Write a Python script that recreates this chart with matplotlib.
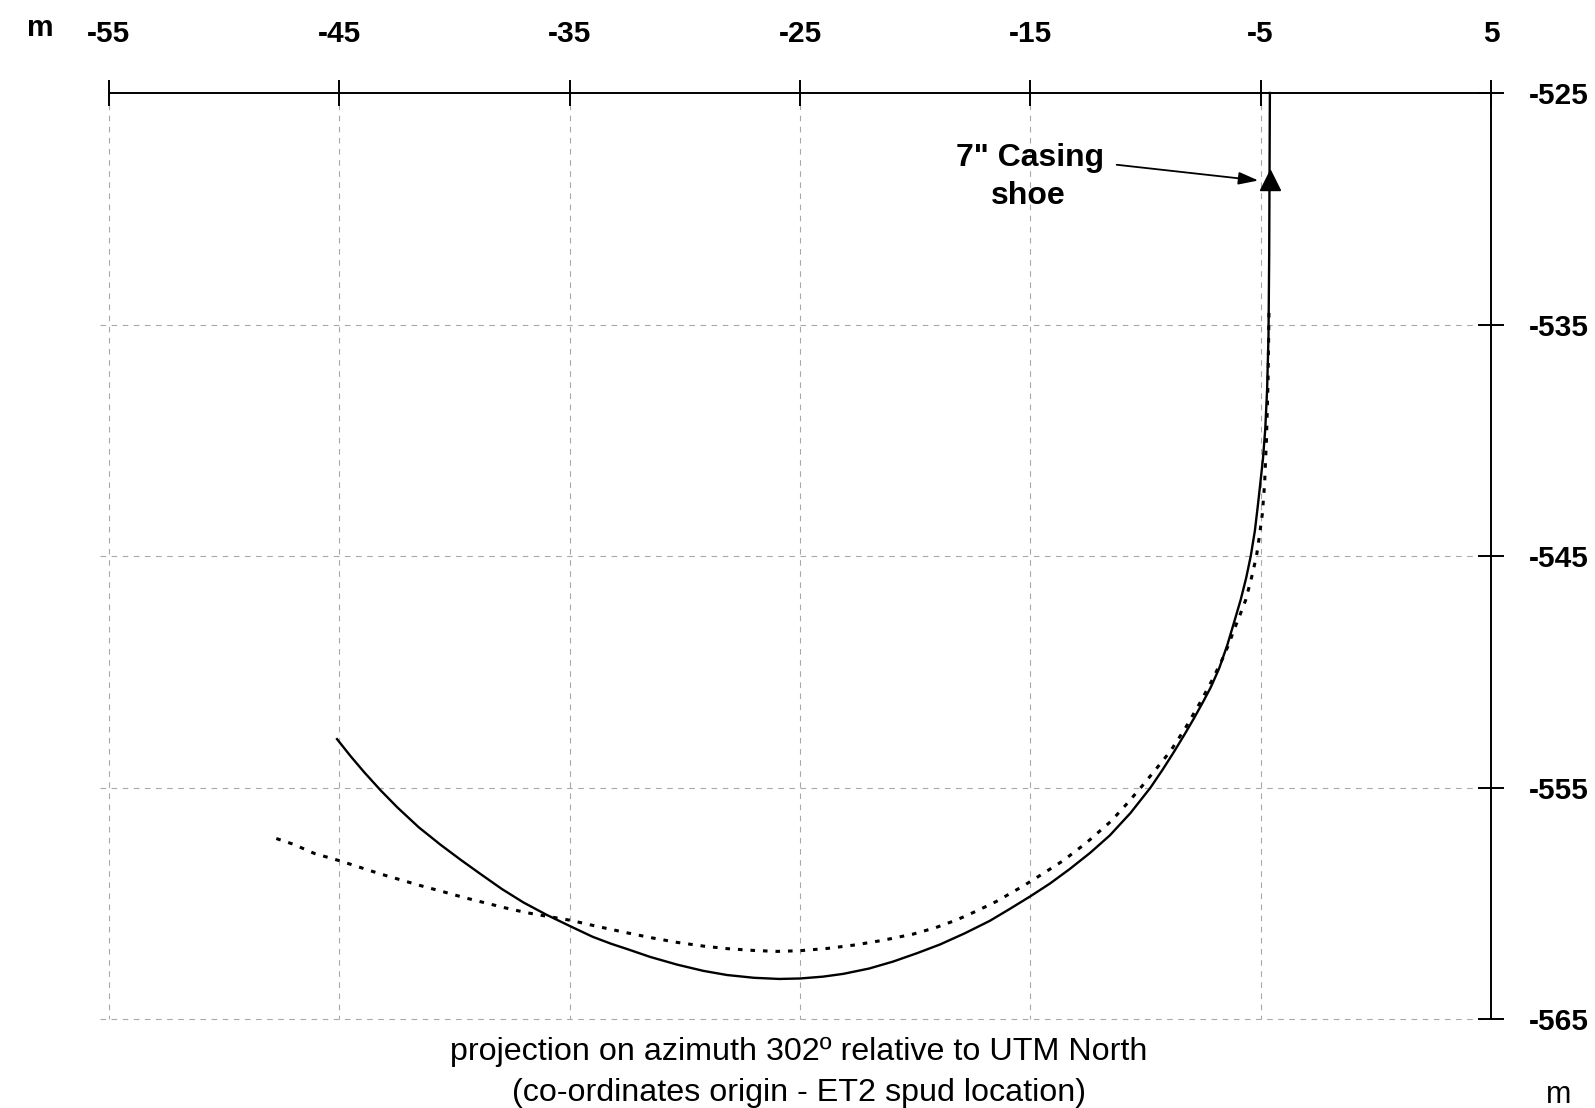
import matplotlib
matplotlib.use("Agg")
import matplotlib.pyplot as plt
from matplotlib import font_manager as fm

# ---------------- data ----------------
x_ticks = [-55, -45, -35, -25, -15, -5, 5]
y_ticks = [-525, -535, -545, -555, -565]
grid_x = [-55, -45, -35, -25, -15, -5]
grid_y = [-535, -545, -555, -565]

# actual well path (solid), read from top to end
solid_x = [-4.60, -4.63, -4.66, -4.72, -4.80, -4.90, -5.02, -5.12, -5.25, -5.43,
           -5.63, -5.87, -6.15, -6.45, -6.80, -7.17, -7.50, -7.90, -8.30, -8.77,
           -9.25, -9.78, -10.65, -11.55, -12.40, -13.30, -14.15, -15.00, -15.90, -16.76,
           -17.85, -18.92, -19.90, -20.96, -22.00, -23.12, -24.00, -25.00, -25.90, -27.00,
           -28.17, -29.20, -30.34, -31.50, -32.50, -33.20, -34.00, -35.00, -36.00, -37.00,
           -37.95, -38.88, -39.75, -40.61, -41.55, -42.48, -43.20, -43.92, -44.50, -45.10]
solid_y = [-525.0, -532.0, -535.5, -537.8, -539.5, -540.8, -541.9, -542.8, -543.9, -545.0,
           -545.95, -546.9, -547.85, -548.85, -549.85, -550.68, -551.3, -552.02, -552.7, -553.47,
           -554.22, -555.0, -556.1, -557.07, -557.82, -558.53, -559.15, -559.70, -560.25, -560.76,
           -561.30, -561.78, -562.15, -562.52, -562.82, -563.05, -563.17, -563.25, -563.27, -563.22,
           -563.10, -562.92, -562.65, -562.32, -561.98, -561.75, -561.45, -560.98, -560.50, -559.97,
           -559.38, -558.73, -558.11, -557.47, -556.72, -555.86, -555.13, -554.34, -553.66, -552.91]

# planned well path (dotted), read from top to end
dotted_x = [-4.64, -4.68, -4.75, -4.83, -4.93, -5.05, -5.18, -5.40, -5.65, -5.90,
            -6.16, -6.40, -6.67, -7.10, -7.61, -8.25, -8.91, -9.50, -10.20, -10.85,
            -11.49, -12.58, -13.59, -14.50, -15.32, -16.47, -17.30, -18.20, -19.10, -20.08,
            -21.40, -22.60, -23.80, -25.00, -26.00, -27.00, -28.17, -29.20, -30.34, -31.40,
            -32.50, -33.80, -35.00, -36.00, -36.80, -37.59, -38.60, -39.60, -40.50, -41.47,
            -42.30, -43.20, -44.10, -45.00, -46.08, -47.00, -47.90]
dotted_y = [-534.5, -537.5, -540.0, -541.9, -543.2, -544.1, -545.0, -545.95, -546.9, -547.55,
            -548.2, -548.85, -549.47, -550.35, -551.3, -552.4, -553.42, -554.15, -555.0, -555.75,
            -556.45, -557.4, -558.17, -558.75, -559.26, -559.92, -560.32, -560.72, -561.05, -561.33,
            -561.6, -561.8, -561.95, -562.05, -562.08, -562.04, -561.96, -561.85, -561.69, -561.5,
            -561.28, -561.0, -560.73, -560.56, -560.42, -560.25, -560.0, -559.75, -559.5, -559.24,
            -559.0, -558.74, -558.45, -558.16, -557.85, -557.45, -557.15]

shoe_x = [-4.6]
shoe_y = [-528.75]
shoe_label_lines = ['7" Casing', 'shoe']
caption_lines = ['projection on azimuth 302º relative to UTM North',
                 '(co-ordinates origin - ET2 spud location)']
unit_label = 'm'

# ---------------- fonts ----------------
def has_font(name):
    try:
        fm.findfont(fm.FontProperties(family=name), fallback_to_default=False)
        return True
    except Exception:
        return False

FAM = 'Liberation Sans' if has_font('Liberation Sans') else 'DejaVu Sans'
plt.rcParams['font.family'] = [FAM, 'DejaVu Sans']
tick_fs, cap_fs, m_fs = 21.5, 23.2, 22

# ---------------- figure ----------------
fig = plt.figure(figsize=(15.95, 11.08), dpi=100)
ax = fig.add_axes([109 / 1595, 1 - 1019 / 1108, 1382 / 1595, 926 / 1108])
ax.set_xlim(-55, 5)
ax.set_ylim(-565, -525)

for s in ['left', 'bottom']:
    ax.spines[s].set_visible(False)
for s in ['top', 'right']:
    ax.spines[s].set_linewidth(1.4)
    ax.spines[s].set_color('black')

ax.xaxis.tick_top()
ax.yaxis.tick_right()
ax.set_xticks(x_ticks)
ax.set_yticks(y_ticks)
ax.set_xticklabels([str(v) for v in x_ticks])
ax.set_yticklabels([str(v) for v in y_ticks])
ax.tick_params(axis='both', direction='inout', length=19, width=1.4, color='black')
ax.tick_params(axis='x', pad=23, labelsize=tick_fs)
ax.tick_params(axis='y', pad=18, labelsize=tick_fs)
for lab in ax.get_xticklabels() + ax.get_yticklabels():
    lab.set_fontweight('bold')

# grid
gcol = '#a8a8a8'
for gx in grid_x:
    ax.plot([gx, gx], [-525, -565], color=gcol, lw=0.8, ls=(0, (5, 5)), zorder=1, clip_on=False)
for gy in grid_y:
    ax.plot([-55.4, 5], [gy, gy], color=gcol, lw=0.8, ls=(0, (5, 5)), zorder=1, clip_on=False)

# curves
ax.plot(solid_x, solid_y, color='black', lw=1.7, zorder=3, clip_on=False,
        solid_joinstyle='round')
ax.plot(dotted_x, dotted_y, color='black', lw=2.2, ls=(0, (1.5, 2.6)), zorder=3, clip_on=False)

# casing shoe
ax.plot(shoe_x, shoe_y, marker='^', ms=14, color='black', ls='none', zorder=4)
ax.text(-15.0, -527.82, shoe_label_lines[0], ha='center', va='center',
        fontsize=23, fontweight='bold')
ax.text(-15.1, -529.46, shoe_label_lines[1], ha='center', va='center',
        fontsize=23, fontweight='bold')
ax.annotate('', xy=(-5.1, -528.78), xytext=(-11.25, -528.1),
            arrowprops=dict(arrowstyle='-|>,head_length=1.2,head_width=0.38',
                            lw=1.3, color='black', shrinkA=0, shrinkB=0))

# captions
fig.text(799 / 1595, 1 - 1052 / 1108, caption_lines[0], ha='center', va='center',
         fontsize=cap_fs)
fig.text(799 / 1595, 1 - 1093 / 1108, caption_lines[1], ha='center', va='center',
         fontsize=cap_fs)
fig.text(40 / 1595, 1 - 28 / 1108, unit_label, ha='center', va='center', fontsize=tick_fs,
         fontweight='bold')
fig.text(1559 / 1595, 1 - 1095 / 1108, unit_label, ha='center', va='center', fontsize=m_fs)

fig.savefig('out.png', dpi=100, facecolor='white')
